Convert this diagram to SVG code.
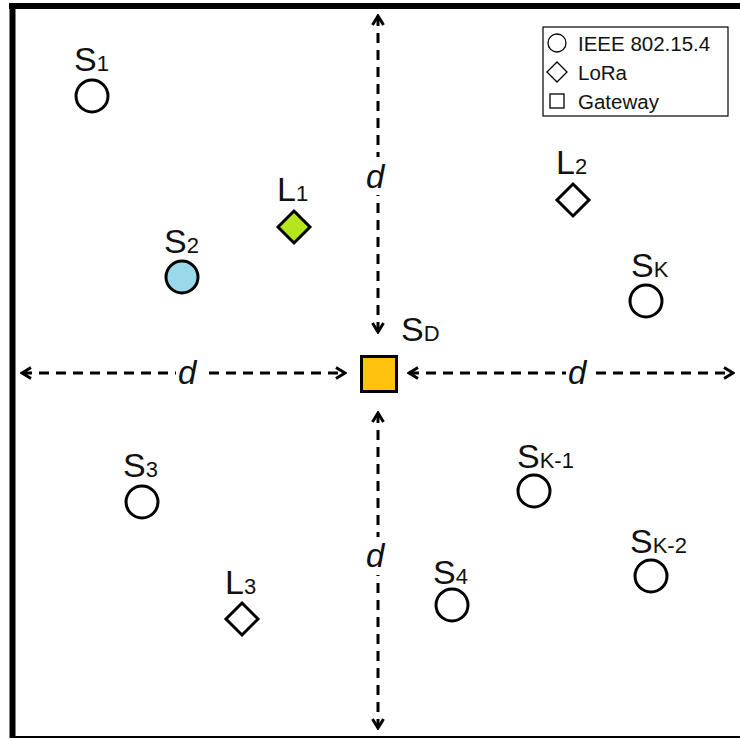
<svg xmlns="http://www.w3.org/2000/svg" width="740" height="739" viewBox="0 0 740 739">
<defs>
<marker id="ah" viewBox="0 0 14 14" refX="12" refY="7" markerWidth="14" markerHeight="14" markerUnits="userSpaceOnUse" orient="auto-start-reverse">
<path d="M3,1.5 L12,7 L3,12.5" fill="none" stroke="#000" stroke-width="3"/>
</marker>
</defs>
<style>
.lbl{font-family:"Liberation Sans","Open Sans",sans-serif;font-size:34px;fill:#111}
.sub{font-size:22px}
.leg{font-family:"Liberation Sans","Open Sans",sans-serif;font-size:20.5px;fill:#111}
.node{stroke:#000;stroke-width:3}
.dash{stroke:#000;stroke-width:3;stroke-dasharray:10 7;fill:none}
.d{font-family:"Liberation Sans","Open Sans",sans-serif;font-size:33px;font-style:italic;fill:#111}
</style>
<rect width="740" height="739" fill="#fff"/>
<g id="frame">
<line x1="9" y1="6" x2="740" y2="6" stroke="#000" stroke-width="6"/>
<line x1="12.5" y1="3" x2="12.5" y2="738" stroke="#000" stroke-width="6"/>
<line x1="10" y1="737" x2="740" y2="737" stroke="#000" stroke-width="2"/>
</g>
<g id="connectors">
<line class="dash" x1="22" y1="373" x2="345" y2="373" marker-start="url(#ah)" marker-end="url(#ah)"/>
<line class="dash" x1="409" y1="373" x2="733" y2="373" marker-start="url(#ah)" marker-end="url(#ah)"/>
<line class="dash" x1="378" y1="16" x2="378" y2="332" marker-start="url(#ah)" marker-end="url(#ah)"/>
<line class="dash" x1="378" y1="413" x2="378" y2="728" marker-start="url(#ah)" marker-end="url(#ah)"/>
<rect x="176" y="353" width="28" height="38" fill="#fff"/>
<text class="d" x="178" y="384">d</text>
<rect x="566" y="353" width="28" height="38" fill="#fff"/>
<text class="d" x="568" y="384">d</text>
<rect x="364" y="157" width="28" height="38" fill="#fff"/>
<text class="d" x="366" y="188">d</text>
<rect x="364" y="537" width="28" height="38" fill="#fff"/>
<text class="d" x="366" y="567">d</text>
</g>
<g id="legend">
<rect x="543" y="27" width="185" height="89" fill="#fff" stroke="#000" stroke-width="1.2"/>
<circle cx="557" cy="43" r="9" fill="none" stroke="#000" stroke-width="1.3"/>
<text class="leg" x="578" y="51">IEEE 802.15.4</text>
<path d="M557,62 L567,72 L557,82 L547,72 Z" fill="none" stroke="#000" stroke-width="1.3"/>
<text class="leg" x="578" y="80">LoRa</text>
<rect x="550" y="94" width="14" height="14" fill="none" stroke="#000" stroke-width="1.3"/>
<text class="leg" x="578" y="109">Gateway</text>
</g>
<g id="SD">
<rect class="node" x="361.5" y="356.5" width="35" height="35" fill="#FFC20E"/>
<text class="lbl" x="401" y="341">S<tspan class="sub">D</tspan></text>
</g>
<g id="S1">
<circle class="node" cx="92" cy="96" r="16" fill="#fff"/>
<text class="lbl" x="74" y="71">S<tspan class="sub">1</tspan></text>
</g>
<g id="L1">
<path class="node" d="M294,211 L310,227 L294,243 L278,227 Z" fill="#B5E61D"/>
<text class="lbl" x="277" y="201">L<tspan class="sub">1</tspan></text>
</g>
<g id="S2">
<circle class="node" cx="182" cy="277" r="16" fill="#99D9EA"/>
<text class="lbl" x="164" y="253">S<tspan class="sub">2</tspan></text>
</g>
<g id="L2">
<path class="node" d="M573,184 L589,200 L573,216 L557,200 Z" fill="#fff"/>
<text class="lbl" x="556" y="174">L<tspan class="sub">2</tspan></text>
</g>
<g id="SK">
<circle class="node" cx="646" cy="301" r="16" fill="#fff"/>
<text class="lbl" x="631" y="277">S<tspan class="sub">K</tspan></text>
</g>
<g id="S3">
<circle class="node" cx="142" cy="502" r="16" fill="#fff"/>
<text class="lbl" x="123" y="477">S<tspan class="sub">3</tspan></text>
</g>
<g id="L3">
<path class="node" d="M242,603 L258,619 L242,635 L226,619 Z" fill="#fff"/>
<text class="lbl" x="225" y="594">L<tspan class="sub">3</tspan></text>
</g>
<g id="S4">
<circle class="node" cx="452" cy="605" r="16" fill="#fff"/>
<text class="lbl" x="433" y="584">S<tspan class="sub">4</tspan></text>
</g>
<g id="SK-1">
<circle class="node" cx="534" cy="491" r="16" fill="#fff"/>
<text class="lbl" x="517" y="468">S<tspan class="sub">K-1</tspan></text>
</g>
<g id="SK-2">
<circle class="node" cx="651" cy="576" r="16" fill="#fff"/>
<text class="lbl" x="630" y="553">S<tspan class="sub">K-2</tspan></text>
</g>
</svg>
